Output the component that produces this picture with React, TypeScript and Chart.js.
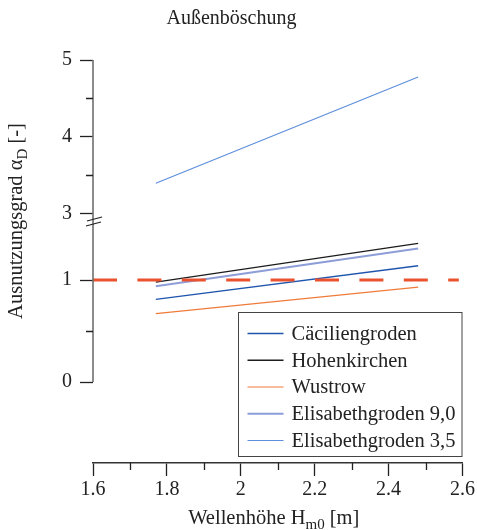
import { useEffect, useRef } from 'react';
import { Chart, registerables } from 'chart.js';

Chart.register(...registerables);

// ---------- data ----------
const waveHeights = [1.77, 2.48];
const caeciliengroden = [0.81, 1.14];
const hohenkirchen = [0.98, 1.36];
const wustrow = [0.67, 0.93];
const elisabeth90 = [0.94, 1.31];
const elisabeth35 = [3.4, 4.78];
const limitX = [1.6, 2.59];
const limitY = [1, 1];

const seriesNames = ['Cäciliengroden', 'Hohenkirchen', 'Wustrow', 'Elisabethgroden 9,0', 'Elisabethgroden 3,5'];

const xMajorTicks = [1.6, 1.8, 2, 2.2, 2.4, 2.6];
const xMinorTicks = [1.7, 1.9, 2.1, 2.3, 2.5];
const lowerMajorTicks = [0, 1];
const lowerMinorTicks = [0.5];
const upperMajorTicks = [3, 4, 5];
const upperMinorTicks = [3.5, 4.5];

const FONT = "'Liberation Serif', 'Times New Roman', serif";
const TEXT = '#222';

const pts = (xs: number[], ys: number[]) => xs.map((x, i) => ({ x, y: ys[i] }));

const overlayPlugin = {
  id: 'overlay',
  afterDraw(chart: any) {
    const ctx = chart.ctx as CanvasRenderingContext2D;
    const ca = chart.chartArea;
    const x = chart.scales.x;
    const y1 = chart.scales.y1;
    const y2 = chart.scales.y2;
    const left = ca.left;
    ctx.save();

    // y axis line from 0 to 5
    const yTop = y2.getPixelForValue(5);
    const yBot = y1.getPixelForValue(0);
    ctx.strokeStyle = '#6e6e6e';
    ctx.lineWidth = 1.6;
    ctx.beginPath();
    ctx.moveTo(left, yTop);
    ctx.lineTo(left, yBot);
    ctx.stroke();

    // minor ticks
    ctx.strokeStyle = '#222';
    ctx.lineWidth = 1.3;
    ctx.beginPath();
    lowerMinorTicks.forEach((v) => {
      const p = Math.round(y1.getPixelForValue(v)) + 0.5;
      ctx.moveTo(left - 7, p);
      ctx.lineTo(left, p);
    });
    upperMinorTicks.forEach((v) => {
      const p = Math.round(y2.getPixelForValue(v)) + 0.5;
      ctx.moveTo(left - 7, p);
      ctx.lineTo(left, p);
    });
    xMinorTicks.forEach((v) => {
      const p = Math.round(x.getPixelForValue(v)) + 0.5;
      ctx.moveTo(p, ca.bottom);
      ctx.lineTo(p, ca.bottom + 7);
    });
    ctx.stroke();

    // break marks
    const yb = y2.bottom;
    ctx.strokeStyle = '#222';
    ctx.lineWidth = 1.2;
    ctx.beginPath();
    ctx.moveTo(left - 6, yb - 1);
    ctx.lineTo(left + 9, yb - 5);
    ctx.moveTo(left - 7, yb + 4);
    ctx.lineTo(left + 8, yb);
    ctx.stroke();

    // legend
    const ds = chart.data.datasets.filter((d: any) => d.inLegend);
    const lx = 238.5;
    const lw = ca.right - 0.5 - lx;
    const rowH = 26.75;
    const lh = 144;
    const ly = ca.bottom - 6.5 - lh;
    ctx.fillStyle = '#fff';
    ctx.fillRect(lx, ly, lw, lh);
    ctx.strokeStyle = '#444';
    ctx.lineWidth = 1;
    ctx.strokeRect(lx, ly, lw, lh);
    ctx.font = `20.5px ${FONT}`;
    ctx.textBaseline = 'middle';
    ctx.textAlign = 'left';
    ds.forEach((d: any, i: number) => {
      const cy = ly + 21 + i * rowH;
      ctx.strokeStyle = d.borderColor;
      ctx.lineWidth = d.borderWidth;
      ctx.beginPath();
      ctx.moveTo(lx + 9, cy);
      ctx.lineTo(lx + 45, cy);
      ctx.stroke();
      ctx.fillStyle = TEXT;
      ctx.fillText(d.label, lx + 53, cy + 1);
    });

    // x axis title with subscript
    ctx.fillStyle = TEXT;
    ctx.textBaseline = 'alphabetic';
    const mainFont = `20.5px ${FONT}`;
    const subFont = `15px ${FONT}`;
    const xa = 'Wellenhöhe H';
    const xs = 'm0';
    const xb = ' [m]';
    ctx.font = mainFont;
    const wA = ctx.measureText(xa).width;
    const wB = ctx.measureText(xb).width;
    ctx.font = subFont;
    const wS = ctx.measureText(xs).width;
    const total = wA + wS + wB;
    let sx = (ca.left + ca.right) / 2 - 4 - total / 2;
    const base = 524;
    ctx.font = mainFont;
    ctx.fillText(xa, sx, base);
    sx += wA;
    ctx.font = subFont;
    ctx.fillText(xs, sx, base + 5);
    sx += wS;
    ctx.font = mainFont;
    ctx.fillText(xb, sx, base);

    // y axis title with subscript
    const ya = 'Ausnutzungsgrad α';
    const ysb = 'D';
    const yc = ' [-]';
    ctx.font = mainFont;
    const wyA = ctx.measureText(ya).width;
    const wyC = ctx.measureText(yc).width;
    ctx.font = subFont;
    const wyS = ctx.measureText(ysb).width;
    const ytotal = wyA + wyS + wyC;
    ctx.translate(22, (yTop + yBot) / 2);
    ctx.rotate(-Math.PI / 2);
    let tx = -ytotal / 2;
    ctx.font = mainFont;
    ctx.fillText(ya, tx, 0);
    tx += wyA;
    ctx.font = subFont;
    ctx.fillText(ysb, tx, 5);
    tx += wyS;
    ctx.font = mainFont;
    ctx.fillText(yc, tx, 0);

    ctx.restore();
  },
};

const yGrid = {
  display: true,
  drawOnChartArea: false,
  drawTicks: true,
  tickLength: 13,
  tickColor: '#222',
  tickWidth: 1.3,
};

export default function App() {
  const ref = useRef<HTMLCanvasElement>(null);
  useEffect(() => {
    document.body.style.margin = '0';
    const canvas = ref.current!;
    const chart = new Chart(canvas, {
      type: 'line',
      data: {
        datasets: [
          {
            label: seriesNames[0],
            inLegend: true,
            data: pts(waveHeights, caeciliengroden),
            borderColor: '#1f55ad',
            borderWidth: 1.3,
            yAxisID: 'y1',
          },
          {
            label: seriesNames[1],
            inLegend: true,
            data: pts(waveHeights, hohenkirchen),
            borderColor: '#1c1c1c',
            borderWidth: 1.3,
            yAxisID: 'y1',
          },
          {
            label: seriesNames[2],
            inLegend: true,
            data: pts(waveHeights, wustrow),
            borderColor: '#f07a3a',
            borderWidth: 1.2,
            yAxisID: 'y1',
          },
          {
            label: seriesNames[3],
            inLegend: true,
            data: pts(waveHeights, elisabeth90),
            borderColor: '#8d9dd8',
            borderWidth: 2,
            yAxisID: 'y1',
          },
          {
            label: seriesNames[4],
            inLegend: true,
            data: pts(waveHeights, elisabeth35),
            borderColor: '#5d8fdc',
            borderWidth: 1.2,
            yAxisID: 'y2',
          },
          {
            label: 'limit',
            inLegend: false,
            data: pts(limitX, limitY),
            borderColor: '#e9522c',
            borderWidth: 3,
            borderDash: [24, 20.4],
            borderCapStyle: 'butt',
            yAxisID: 'y1',
            order: -1,
          },
        ] as any,
      },
      options: {
        animation: false,
        responsive: false,
        maintainAspectRatio: false,
        elements: { point: { radius: 0, hoverRadius: 0 }, line: { tension: 0 } },
        layout: { padding: { top: 0, left: 0, right: 14, bottom: 0 } },
        plugins: {
          legend: { display: false },
          tooltip: { enabled: false },
          title: {
            display: true,
            text: 'Außenböschung',
            color: TEXT,
            font: { family: FONT, size: 20, weight: 'normal' as any },
            padding: { top: 6.5, bottom: 29.5 },
          },
        },
        scales: {
          x: {
            type: 'linear',
            min: 1.6,
            max: 2.6,
            afterBuildTicks: (s: any) => {
              s.ticks = xMajorTicks.map((v) => ({ value: v }));
            },
            afterFit: (s: any) => {
              s.height = 67;
            },
            grid: {
              display: true,
              drawOnChartArea: false,
              drawTicks: true,
              tickLength: 13,
              tickColor: '#222',
              tickWidth: 1.3,
            },
            border: { display: true, color: '#333', width: 1.5 },
            ticks: {
              autoSkip: false,
              maxRotation: 0,
              padding: 2,
              color: TEXT,
              font: { family: FONT, size: 20 },
              callback: (v: any) => String(Math.round(Number(v) * 10) / 10),
            },
          },
          y1: {
            type: 'linear',
            position: 'left',
            stack: 'ybroken',
            stackWeight: 241,
            min: -0.794,
            max: 1.569,
            afterBuildTicks: (s: any) => {
              s.ticks = lowerMajorTicks.map((v) => ({ value: v }));
            },
            afterFit: (s: any) => {
              s.width = 93;
            },
            grid: yGrid,
            border: { display: false },
            ticks: {
              padding: 8,
              color: TEXT,
              font: { family: FONT, size: 20 },
              callback: (v: any) => String(v),
            },
          },
          y2: {
            type: 'linear',
            position: 'left',
            stack: 'ybroken',
            stackWeight: 162,
            min: 2.896,
            max: 5,
            afterBuildTicks: (s: any) => {
              s.ticks = upperMajorTicks.map((v) => ({ value: v }));
            },
            afterFit: (s: any) => {
              s.width = 93;
            },
            grid: yGrid,
            border: { display: false },
            ticks: {
              padding: 8,
              color: TEXT,
              font: { family: FONT, size: 20 },
              callback: (v: any) => String(v),
            },
          },
        } as any,
      },
      plugins: [overlayPlugin],
    });
    return () => chart.destroy();
  }, []);
  return <canvas ref={ref} width={477} height={530} style={{ display: 'block' }} />;
}
